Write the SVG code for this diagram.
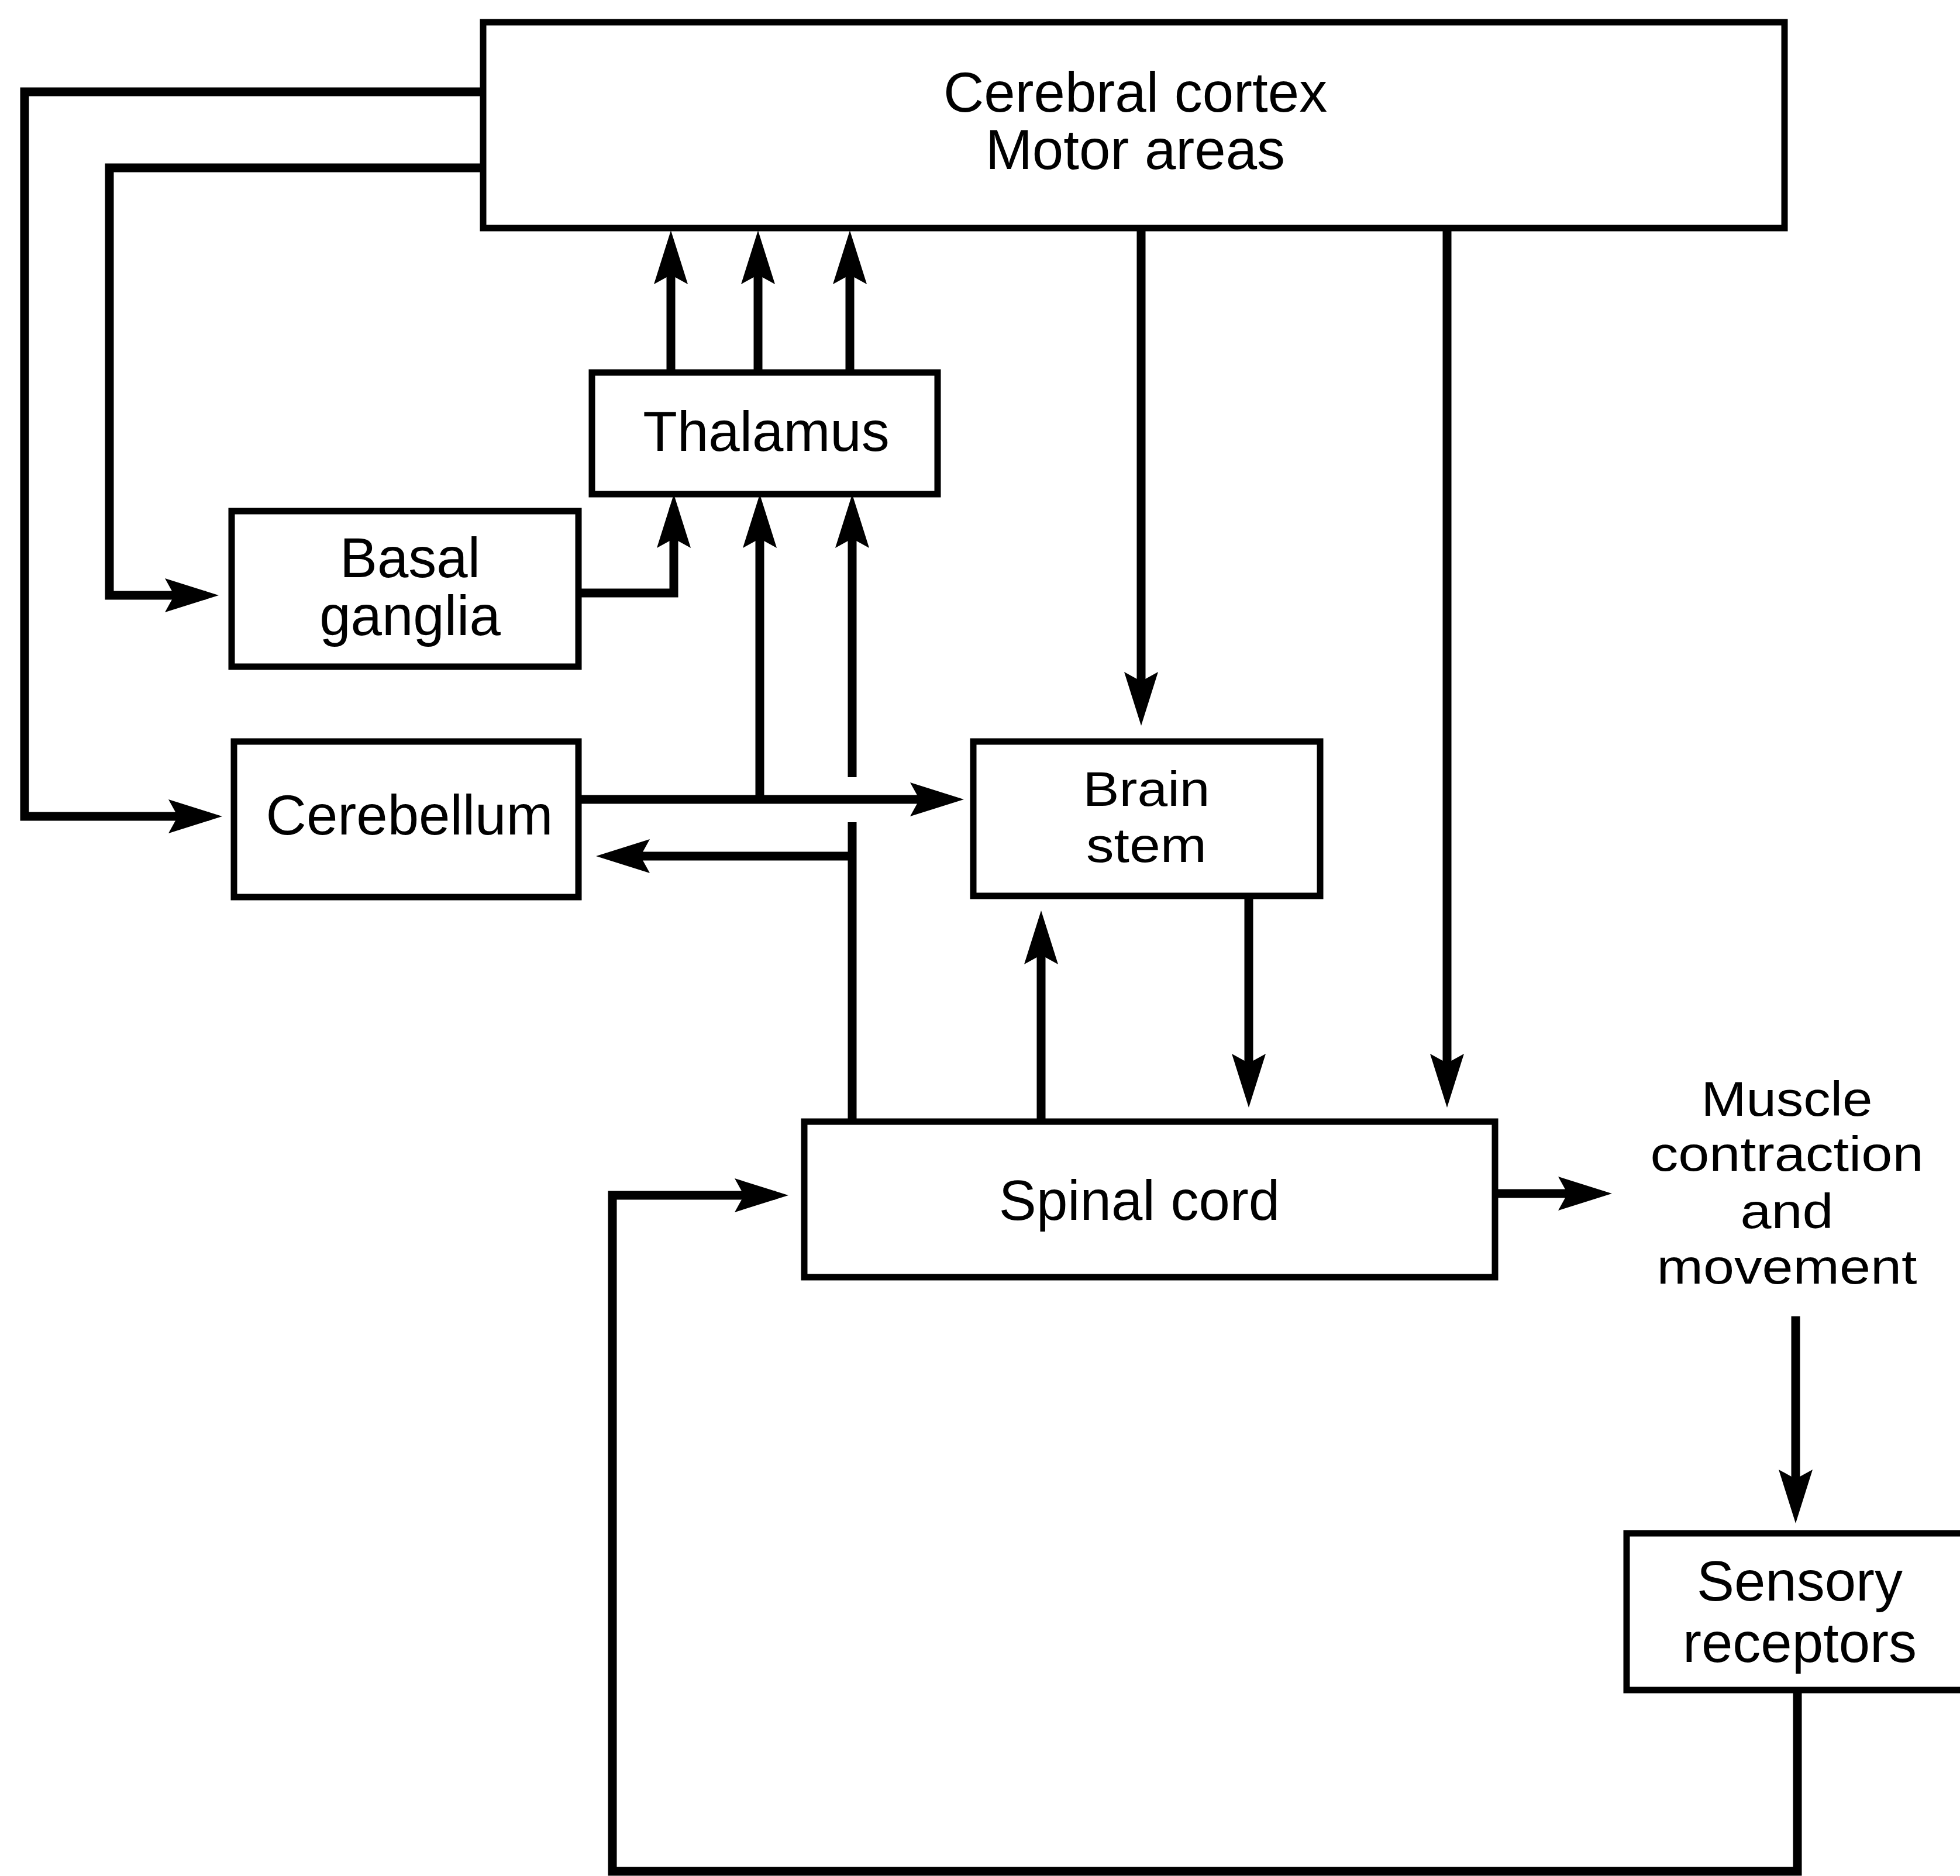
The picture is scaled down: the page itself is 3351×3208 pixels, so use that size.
<svg xmlns="http://www.w3.org/2000/svg" width="3351" height="3208" viewBox="0 0 3351 3208">
<style>
.box{fill:#fff;stroke:#000;stroke-width:11}
.ln{fill:none;stroke:#000;stroke-width:15;stroke-linejoin:miter;stroke-linecap:square}
.lb{fill:none;stroke:#000;stroke-width:15}
text{font-family:"Liberation Sans",Arial,sans-serif;font-size:96px;fill:#000;text-anchor:middle}
text.sm{font-size:84px}
</style>
<defs>
<marker id="ah" markerUnits="userSpaceOnUse" viewBox="-100 -35 105 70" markerWidth="105" markerHeight="70" refX="-30" refY="0" orient="auto">
<path d="M0,0 L-92,-29 L-76,0 L-92,29 Z" fill="#000"/>
</marker>
</defs>
<rect width="3351" height="3208" fill="#fff"/>
<g id="connectors">
<path class="ln" d="M826,157 H42 V1396 H350" marker-end="url(#ah)"/>
<path class="ln" d="M826,287 H187 V1018 H344" marker-end="url(#ah)"/>
<path class="ln" d="M989,1014 H1152 V875" marker-end="url(#ah)"/>
<path class="lb" d="M1147,635 V424" marker-end="url(#ah)"/>
<path class="lb" d="M1296,635 V424" marker-end="url(#ah)"/>
<path class="lb" d="M1453,635 V424" marker-end="url(#ah)"/>
<path class="lb" d="M989,1367 H1618" marker-end="url(#ah)"/>
<path class="lb" d="M1299,1367 V875" marker-end="url(#ah)"/>
<path class="lb" d="M1457,1918 V1406"/>
<path class="lb" d="M1457,1329 V875" marker-end="url(#ah)"/>
<path class="lb" d="M1457,1464 H1049" marker-end="url(#ah)"/>
<path class="lb" d="M1951,390 V1211" marker-end="url(#ah)"/>
<path class="lb" d="M2474,390 V1864" marker-end="url(#ah)"/>
<path class="lb" d="M1780,1918 V1587" marker-end="url(#ah)"/>
<path class="lb" d="M2135,1532 V1864" marker-end="url(#ah)"/>
<path class="lb" d="M2556,2041 H2726" marker-end="url(#ah)"/>
<path class="lb" d="M3070,2251 V2575" marker-end="url(#ah)"/>
<path class="ln" d="M3073,2890 V3200 H1047 V2044 H1318" marker-end="url(#ah)"/>
</g>
<g id="cortex">
<rect class="box" x="826" y="38" width="2225" height="352"/>
<text x="1941" y="191">Cerebral cortex</text>
<text x="1941" y="289">Motor areas</text>
</g>
<g id="thalamus">
<rect class="box" x="1012" y="637" width="591" height="208"/>
<text x="1310" y="771">Thalamus</text>
</g>
<g id="basal-ganglia">
<rect class="box" x="396" y="874" width="593" height="266"/>
<text x="701" y="987">Basal</text>
<text x="701" y="1086">ganglia</text>
</g>
<g id="cerebellum">
<rect class="box" x="400" y="1268" width="589" height="266"/>
<text x="700" y="1427">Cerebellum</text>
</g>
<g id="brain-stem">
<rect class="box" x="1664" y="1268" width="593" height="264"/>
<text class="sm" x="1960" y="1378" textLength="217" lengthAdjust="spacingAndGlyphs">Brain</text>
<text class="sm" x="1960" y="1474" textLength="206" lengthAdjust="spacingAndGlyphs">stem</text>
</g>
<g id="spinal-cord">
<rect class="box" x="1375" y="1918" width="1181" height="266"/>
<text x="1948" y="2086">Spinal cord</text>
</g>
<g id="muscle">
<text class="sm" x="3055" y="1908" textLength="293" lengthAdjust="spacingAndGlyphs">Muscle</text>
<text class="sm" x="3055" y="2002" textLength="467" lengthAdjust="spacingAndGlyphs">contraction</text>
<text class="sm" x="3055" y="2100" textLength="159" lengthAdjust="spacingAndGlyphs">and</text>
<text class="sm" x="3055" y="2195" textLength="445" lengthAdjust="spacingAndGlyphs">movement</text>
</g>
<g id="sensory-receptors">
<rect class="box" x="2781" y="2622" width="600" height="268"/>
<text x="3077" y="2737">Sensory</text>
<text x="3077" y="2842">receptors</text>
</g>
</svg>
